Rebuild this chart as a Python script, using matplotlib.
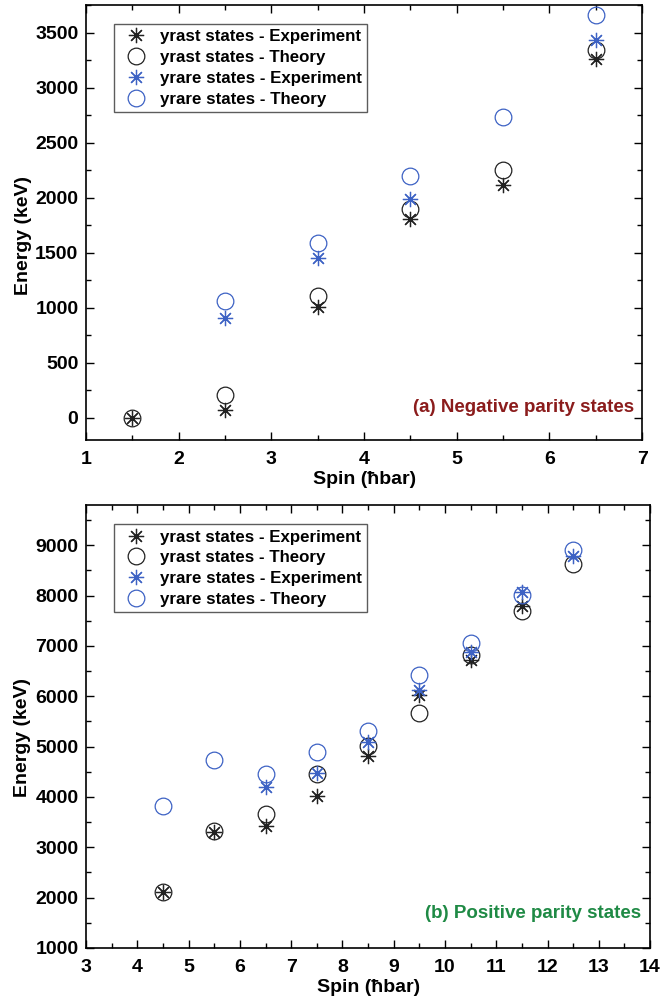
import matplotlib
matplotlib.use('Agg')
import matplotlib.pyplot as plt
from matplotlib.ticker import MultipleLocator

plt.rcParams['font.family'] = ['Liberation Sans', 'DejaVu Sans']
plt.rcParams['font.weight'] = 'bold'

# (a) negative parity
spin_a_yrast = [1.5, 2.5, 3.5, 4.5, 5.5, 6.5]
yrast_exp_a = [0, 70, 1010, 1810, 2120, 3260]
yrast_th_a = [0, 210, 1110, 1900, 2250, 3340]
spin_a_yrare_exp = [2.5, 3.5, 4.5, 6.5]
yrare_exp_a = [905, 1450, 1990, 3430]
spin_a_yrare_th = [2.5, 3.5, 4.5, 5.5, 6.5]
yrare_th_a = [1060, 1590, 2200, 2730, 3660]

# (b) positive parity
spin_b_yrast_exp = [4.5, 5.5, 6.5, 7.5, 8.5, 9.5, 10.5, 11.5]
yrast_exp_b = [2110, 3300, 3420, 4010, 4810, 6030, 6720, 7800]
spin_b_yrast_th = [4.5, 5.5, 6.5, 7.5, 8.5, 9.5, 10.5, 11.5, 12.5]
yrast_th_b = [2110, 3330, 3660, 4450, 5020, 5660, 6830, 7690, 8620]
spin_b_yrare_exp = [6.5, 7.5, 8.5, 9.5, 10.5, 11.5, 12.5]
yrare_exp_b = [4200, 4480, 5100, 6130, 6880, 8080, 8780]
spin_b_yrare_th = [4.5, 5.5, 6.5, 7.5, 8.5, 9.5, 10.5, 11.5, 12.5]
yrare_th_b = [3830, 4740, 4450, 4900, 5310, 6420, 7050, 8020, 8900]

black = '#222222'
blue = '#3d62c4'
asterisk = (8, 2, 0)


def panel(ax, ye_x, ye_y, yt_x, yt_y, re_x, re_y, rt_x, rt_y, ylab_y):
    ax.plot(ye_x, ye_y, ls='none', marker=asterisk, ms=11, mew=0.9, color=black,
            label='yrast states - Experiment')
    ax.plot(yt_x, yt_y, ls='none', marker='o', ms=12, mew=0.9, mfc='none', mec=black,
            label='yrast states - Theory')
    ax.plot(re_x, re_y, ls='none', marker=asterisk, ms=11, mew=0.9, color=blue,
            label='yrare states - Experiment')
    ax.plot(rt_x, rt_y, ls='none', marker='o', ms=12, mew=0.9, mfc='none', mec=blue,
            label='yrare states - Theory')
    ax.tick_params(which='both', direction='in', top=True, right=True, labelsize=14)
    ax.tick_params(which='major', length=6, width=1)
    ax.tick_params(which='minor', length=3.5, width=1)
    ax.tick_params(axis='x', pad=8)
    ax.tick_params(axis='y', pad=5.5)
    for s in ax.spines.values():
        s.set_linewidth(1.2)
    ax.set_xlabel('Spin (ħbar)', fontsize=14, fontweight='bold', labelpad=2)
    ax.set_ylabel('Energy (keV)', fontsize=14, fontweight='bold')
    ax.yaxis.set_label_coords(-0.097, ylab_y)
    leg = ax.legend(loc='upper left', bbox_to_anchor=(0.05, 0.956), fontsize=12.2,
                    frameon=True, fancybox=False, edgecolor='#333333',
                    handletextpad=0.4, borderpad=0.3, labelspacing=0.34,
                    handlelength=2.0, borderaxespad=0)
    leg.get_frame().set_linewidth(1.0)


fig = plt.figure(figsize=(6.62, 10), dpi=100)

ax1 = fig.add_axes([0.130, 0.560, 0.840, 0.435])
panel(ax1, spin_a_yrast, yrast_exp_a, spin_a_yrast, yrast_th_a,
      spin_a_yrare_exp, yrare_exp_a, spin_a_yrare_th, yrare_th_a, 0.469)
ax1.set_xlim(1, 7)
ax1.set_ylim(-200, 3750)
ax1.xaxis.set_major_locator(MultipleLocator(1))
ax1.xaxis.set_minor_locator(MultipleLocator(0.5))
ax1.yaxis.set_major_locator(MultipleLocator(500))
ax1.yaxis.set_minor_locator(MultipleLocator(250))
ax1.text(0.985, 0.075, '(a) Negative parity states', transform=ax1.transAxes,
         ha='right', va='center', fontsize=13.5, fontweight='bold', color='#8b1c1c')

ax2 = fig.add_axes([0.130, 0.052, 0.852, 0.443])
panel(ax2, spin_b_yrast_exp, yrast_exp_b, spin_b_yrast_th, yrast_th_b,
      spin_b_yrare_exp, yrare_exp_b, spin_b_yrare_th, yrare_th_b, 0.476)
ax2.set_xlim(3, 14)
ax2.set_ylim(1000, 9800)
ax2.xaxis.set_major_locator(MultipleLocator(1))
ax2.xaxis.set_minor_locator(MultipleLocator(0.5))
ax2.yaxis.set_major_locator(MultipleLocator(1000))
ax2.yaxis.set_minor_locator(MultipleLocator(500))
ax2.text(0.985, 0.077, '(b) Positive parity states', transform=ax2.transAxes,
         ha='right', va='center', fontsize=13.5, fontweight='bold', color='#1f8a45')

fig.savefig('out.png', dpi=100)
